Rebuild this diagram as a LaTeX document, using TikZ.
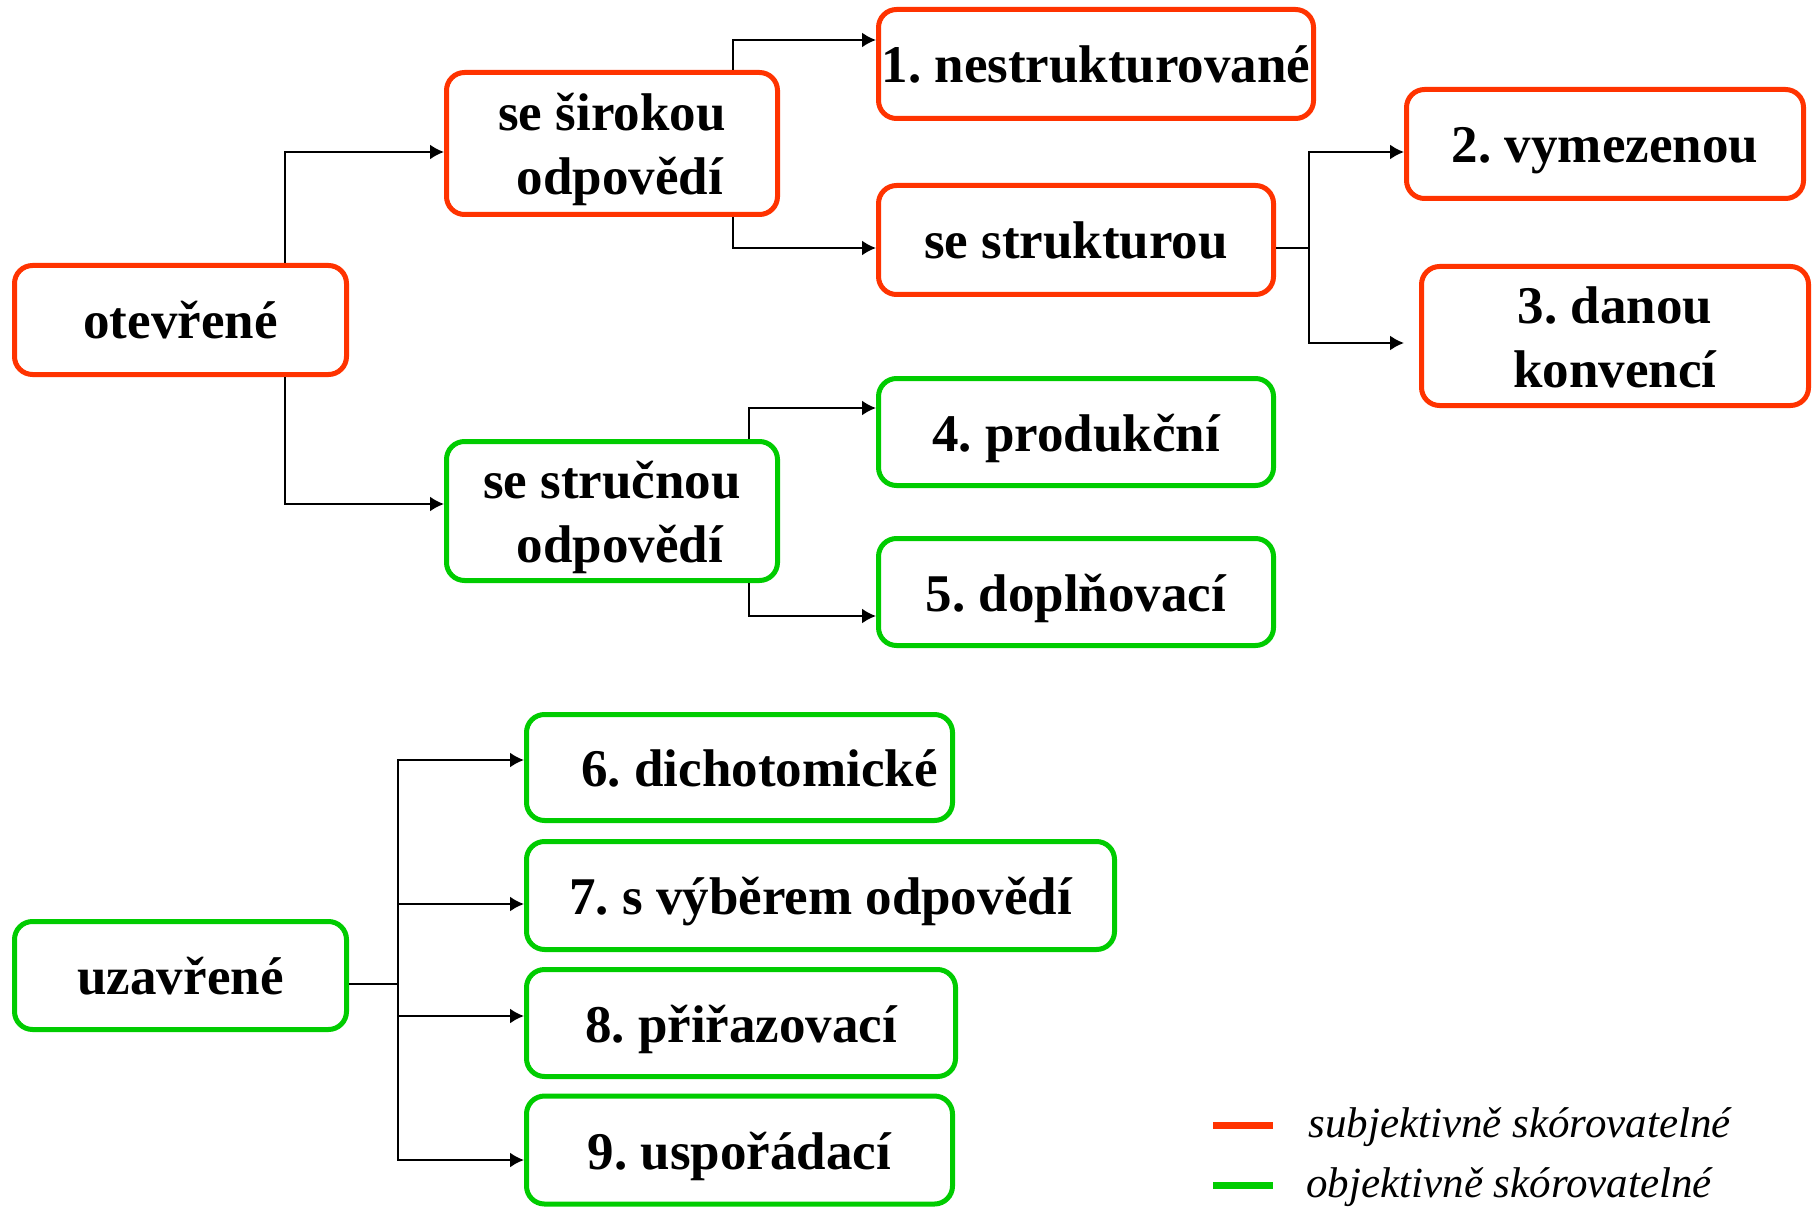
\documentclass[tikz,border=0pt]{standalone}
\usepackage{fontspec}
\setmainfont{Liberation Serif}
\usepackage{tikz}
\tikzset{>=latex}
\usetikzlibrary{arrows.meta,calc,positioning}
\definecolor{subjred}{RGB}{255,51,0}
\definecolor{objgreen}{RGB}{0,204,0}
\tikzset{>={Latex[length=7pt,width=7.5pt]}}
\frenchspacing
\begin{document}
\begin{tikzpicture}[x=0.5pt,y=-0.5pt,
    typbox/.style={draw,rounded corners=9pt,line width=2.5pt,align=center,inner sep=0pt,
        font=\bfseries\fontsize{26.5}{32}\selectfont,minimum height=54.5pt,
        text height=24pt,text depth=5pt},
    twolines/.style={text height=56pt},
    subj/.style={typbox,draw=subjred},
    obj/.style={typbox,draw=objgreen},
    link/.style={line width=1pt,->}]
                \useasboundingbox (0,0) rectangle (1818,1208);
                % otevrene
                \node[subj,minimum width=166pt] (otev) at (180.5,320) {otevřené};
                \node[subj,twolines,minimum width=165.5pt,minimum height=71pt] (sir) at (612,143.5) {se širokou\\\hspace*{8pt}odpovědí};
                \node[subj,minimum width=217.5pt] (n1) at (1096,64) {1. nestrukturované};
                \node[subj,minimum width=197.5pt] (str) at (1076,240) {se strukturou};
                \node[subj,minimum width=198.5pt] (n2) at (1605,144) {2. vymezenou};
                \node[subj,twolines,minimum width=193.5pt,minimum height=69.5pt] (n3) at (1615,336) {3. danou\\ konvencí};
                \node[obj,twolines,minimum width=165.5pt,minimum height=69.5pt] (stru) at (612,511) {se stručnou\\\hspace*{8pt}odpovědí};
                \node[obj,minimum width=197.5pt,minimum height=53.5pt] (n4) at (1076,432) {4. produkční};
                \node[obj,minimum width=197.5pt,minimum height=53.5pt] (n5) at (1076,592) {5. doplňovací};
                % uzavrene
                \node[obj,minimum width=166pt,minimum height=54pt] (uzav) at (180.5,975.5) {uzavřené};
                \node[obj,minimum width=213pt,minimum height=53pt] (n6) at (739.5,767.5) {\hspace*{20pt}6. dichotomické};
                \node[obj,minimum width=294pt,minimum height=54pt] (n7) at (820.5,895.5) {7. s výběrem odpovědí};
                \node[obj,minimum width=214.5pt,minimum height=53.5pt] (n8) at (741,1023) {8. přiřazovací};
                \node[obj,minimum width=213pt,minimum height=54pt] (n9) at (739.5,1150) {9. uspořádací};
                \draw[link] ([xshift=52.25pt]otev.north) |- ([yshift=-4.25pt]sir.west);
                \draw[link] ([xshift=52.25pt]otev.south) |- ([yshift=3.5pt]stru.west);
                \draw[link] ([xshift=60.5pt]sir.north) |- ([yshift=12pt]n1.west);
                \draw[link] ([xshift=60.5pt]sir.south) |- ([yshift=-4pt]str.west);
                \coordinate (strfork) at (1309,248);
                \draw[line width=1pt] ([yshift=-4pt]str.east) -- (strfork);
                \draw[link] (strfork) |- ([yshift=-4pt]n2.west);
                \draw[link] (strfork) |- ([xshift=-7.5pt,yshift=-3.5pt]n3.west);
                \draw[link] ([xshift=68.5pt]stru.north) |- ([yshift=12pt]n4.west);
                \draw[link] ([xshift=68.5pt]stru.south) |- ([yshift=-12pt]n5.west);
                \coordinate (uzfork) at (398,984);
                \draw[line width=1pt] ([yshift=-4.25pt]uzav.east) -- (uzfork);
                \foreach \n/\s in {n6/3.75pt,n7/-4.25pt,n8/3.5pt,n9/-5pt}
                    \draw[link] (uzfork) |- ([yshift=\s]\n.west);
                % legenda
                \draw[subjred,line width=3.5pt] (1213,1125) -- (1273,1125);
                \draw[objgreen,line width=3.5pt] (1213,1185) -- (1273,1185);
                \node[anchor=base west,inner sep=0pt,font=\itshape\fontsize{21.5}{24}\selectfont] (lsubj) at (1308,1137) {subjektivně skórovatelné};
                \node[anchor=base west,inner sep=0pt,font=\itshape\fontsize{21.5}{24}\selectfont] (lobj) at (1306,1197) {objektivně skórovatelné};
            \end{tikzpicture}
\end{document}
